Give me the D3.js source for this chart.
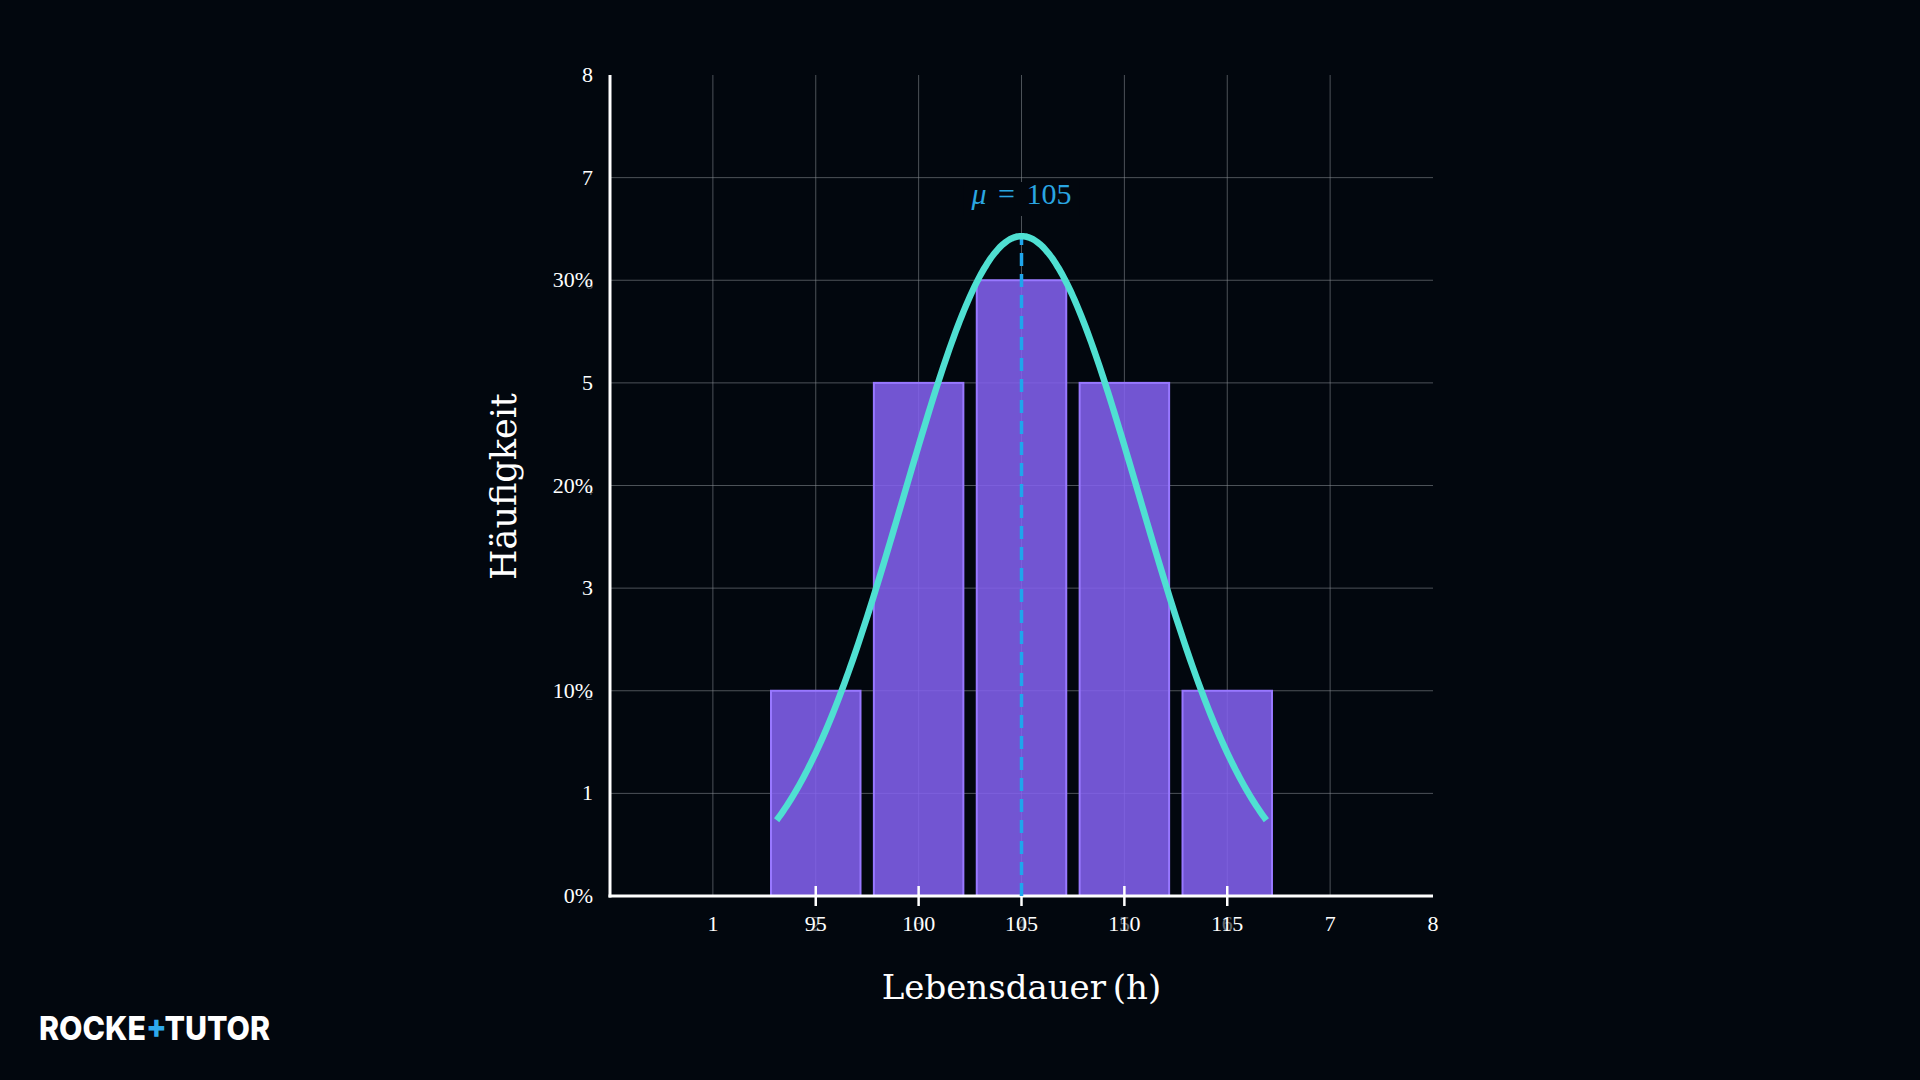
<!DOCTYPE html>
<html>
<head>
<meta charset="utf-8">
<script src="https://cdn.jsdelivr.net/npm/d3@7"></script>
<style>
  html, body { margin: 0; padding: 0; background: #02070e; }
  svg { display: block; }
</style>
</head>
<body>
<div id="container"></div>
<script>
/* DATA */
const binCenters = [2, 3, 4, 5, 6];          // axis units
const binLabels = ["95", "100", "105", "110", "115"];
const binCounts = [2, 5, 6, 5, 2];
const xTickValues = [1, 2, 3, 4, 5, 6, 7, 8];
const xTickLabels = ["1", "95", "100", "105", "110", "115", "7", "8"];
const xGhostLabels = ["", "2", "3", "4", "5", "6", "", ""];
const yTickValues = [0, 1, 2, 3, 4, 5, 6, 7, 8];
const yTickLabels = ["0%", "1", "10%", "3", "20%", "5", "30%", "7", "8"];
const yGhostLabels = ["", "", "2", "", "4", "", "6", "", ""];
const gridValues = [1, 2, 3, 4, 5, 6, 7];

// normal curve drawn over the histogram (hours)
const curveMu = 105, curveSigma = 5.72, curvePeak = 6.43;
const curveFrom = 93.1, curveTo = 116.9;
const binStart = 95, binWidth = 5;

/* CONSTANTS */
const width = 1920, height = 1080;
const plot = { left: 610, right: 1433, top: 75, bottom: 896 };
const bg = "#02070e";

const svg = d3.select("#container")
  .append("svg")
  .attr("width", width)
  .attr("height", height)
  .attr("viewBox", [0, 0, width, height]);

svg.append("rect").attr("width", width).attr("height", height).attr("fill", bg);

const x = d3.scaleLinear().domain([0, 8]).range([plot.left, plot.right]);
const y = d3.scaleLinear().domain([0, 8]).range([plot.bottom, plot.top]);
const hToX = h => x(2 + (h - binStart) / binWidth);

// grid
svg.append("g")
  .selectAll("line.vgrid")
  .data(gridValues)
  .join("line")
  .attr("class", "vgrid")
  .attr("x1", d => x(d)).attr("x2", d => x(d))
  .attr("y1", y(0)).attr("y2", y(8))
  .attr("stroke", "#8a8f96").attr("stroke-opacity", 0.55).attr("stroke-width", 1);

// mu label backdrop (hides the vertical grid line behind the label)
svg.append("rect")
  .attr("x", x(4) - 58).attr("y", 182).attr("width", 116).attr("height", 34)
  .attr("fill", bg);

svg.append("g")
  .selectAll("line.hgrid")
  .data(gridValues)
  .join("line")
  .attr("class", "hgrid")
  .attr("x1", x(0)).attr("x2", x(8))
  .attr("y1", d => y(d)).attr("y2", d => y(d))
  .attr("stroke", "#8a8f96").attr("stroke-opacity", 0.55).attr("stroke-width", 1);

// bars
const barW = x(0.87) - x(0);
svg.append("g")
  .selectAll("rect")
  .data(binCenters)
  .join("rect")
  .attr("x", d => x(d) - barW / 2)
  .attr("y", (d, i) => y(binCounts[i]))
  .attr("width", barW)
  .attr("height", (d, i) => y(0) - y(binCounts[i]))
  .attr("fill", "#8562f2")
  .attr("fill-opacity", 0.86)
  .attr("stroke", "#9878ff")
  .attr("stroke-width", 2);

// axes
svg.append("line")
  .attr("x1", x(0)).attr("x2", x(0)).attr("y1", y(0) + 1.5).attr("y2", y(8))
  .attr("stroke", "#ffffff").attr("stroke-width", 3);
svg.append("line")
  .attr("x1", x(0) - 1.5).attr("x2", x(8)).attr("y1", y(0)).attr("y2", y(0))
  .attr("stroke", "#ffffff").attr("stroke-width", 3);

// tick marks at bin centers
svg.append("g")
  .selectAll("line")
  .data(binCenters)
  .join("line")
  .attr("x1", d => x(d)).attr("x2", d => x(d))
  .attr("y1", y(0) - 10).attr("y2", y(0) + 10)
  .attr("stroke", "#ffffff").attr("stroke-width", 2.5);

// x tick labels
const tickFont = "'Liberation Serif', 'DejaVu Serif', serif";
svg.append("g")
  .attr("font-family", tickFont).attr("font-size", 22).attr("fill", "#ffffff")
  .attr("text-anchor", "middle")
  .selectAll("text")
  .data(xTickValues)
  .join("text")
  .attr("x", d => x(d))
  .attr("y", 931)
  .text((d, i) => xTickLabels[i]);

svg.append("g")
  .attr("font-family", tickFont).attr("font-size", 22).attr("fill", "#ffffff")
  .attr("fill-opacity", 0.4).attr("text-anchor", "middle")
  .selectAll("text")
  .data(xTickValues)
  .join("text")
  .attr("x", d => x(d))
  .attr("y", 931)
  .text((d, i) => xGhostLabels[i]);

// y tick labels
svg.append("g")
  .attr("font-family", tickFont).attr("font-size", 22).attr("fill", "#ffffff")
  .attr("text-anchor", "end")
  .selectAll("text")
  .data(yTickValues)
  .join("text")
  .attr("x", 593)
  .attr("y", d => y(d) + 7)
  .text((d, i) => yTickLabels[i]);

svg.append("g")
  .attr("font-family", tickFont).attr("font-size", 15).attr("fill", "#ffffff")
  .attr("fill-opacity", 0.35).attr("text-anchor", "end")
  .selectAll("text")
  .data(yTickValues)
  .join("text")
  .attr("x", 593)
  .attr("y", d => y(d) + 9)
  .text((d, i) => yGhostLabels[i]);

// mean line
svg.append("line")
  .attr("x1", x(4)).attr("x2", x(4))
  .attr("y1", y(0)).attr("y2", y(curvePeak))
  .attr("stroke", "#1fa6ec").attr("stroke-width", 3.5)
  .attr("stroke-dasharray", "13 8");

// normal curve
const curveH = d3.range(curveFrom, curveTo + 0.001, 0.1);
const line = d3.line()
  .x(h => hToX(h))
  .y(h => y(curvePeak * Math.exp(-((h - curveMu) ** 2) / (2 * curveSigma ** 2))))
  .curve(d3.curveBasis);

svg.append("path")
  .datum(curveH)
  .attr("d", line)
  .attr("fill", "none")
  .attr("stroke", "#4fe0d2")
  .attr("stroke-width", 6.5)
  .attr("stroke-linecap", "butt");

// mu label
const mu = svg.append("text")
  .attr("x", x(4)).attr("y", 204)
  .attr("text-anchor", "middle")
  .attr("font-family", tickFont).attr("font-size", 30)
  .attr("fill", "#2aa6e2");
mu.append("tspan").attr("font-style", "italic").text("μ");
mu.append("tspan").text(" = 105").attr("word-spacing", 4);

// axis titles
svg.append("text")
  .attr("x", x(4)).attr("y", 999)
  .attr("text-anchor", "middle")
  .attr("font-family", "'DejaVu Serif', serif").attr("font-size", 34)
  .attr("fill", "#ffffff")
  .attr("word-spacing", -4)
  .text("Lebensdauer (h)");

svg.append("text")
  .attr("transform", `translate(516, ${y(4) + 1}) rotate(-90)`)
  .attr("text-anchor", "middle")
  .attr("font-family", "'DejaVu Serif', serif").attr("font-size", 35)
  .attr("fill", "#ffffff")
  .text("Häufigkeit");

// logo
const logo = svg.append("text")
  .attr("x", 39).attr("y", 1040)
  .attr("font-family", "Inter, Roboto, sans-serif").attr("font-weight", 800)
  .attr("font-size", 33)
  .attr("textLength", 231).attr("lengthAdjust", "spacingAndGlyphs")
  .attr("fill", "#ffffff");
logo.append("tspan").text("ROCKE");
logo.append("tspan").attr("fill", "#2ea9ec").text("+");
logo.append("tspan").text("TUTO");
logo.append("tspan").text("R");
</script>
</body>
</html>
